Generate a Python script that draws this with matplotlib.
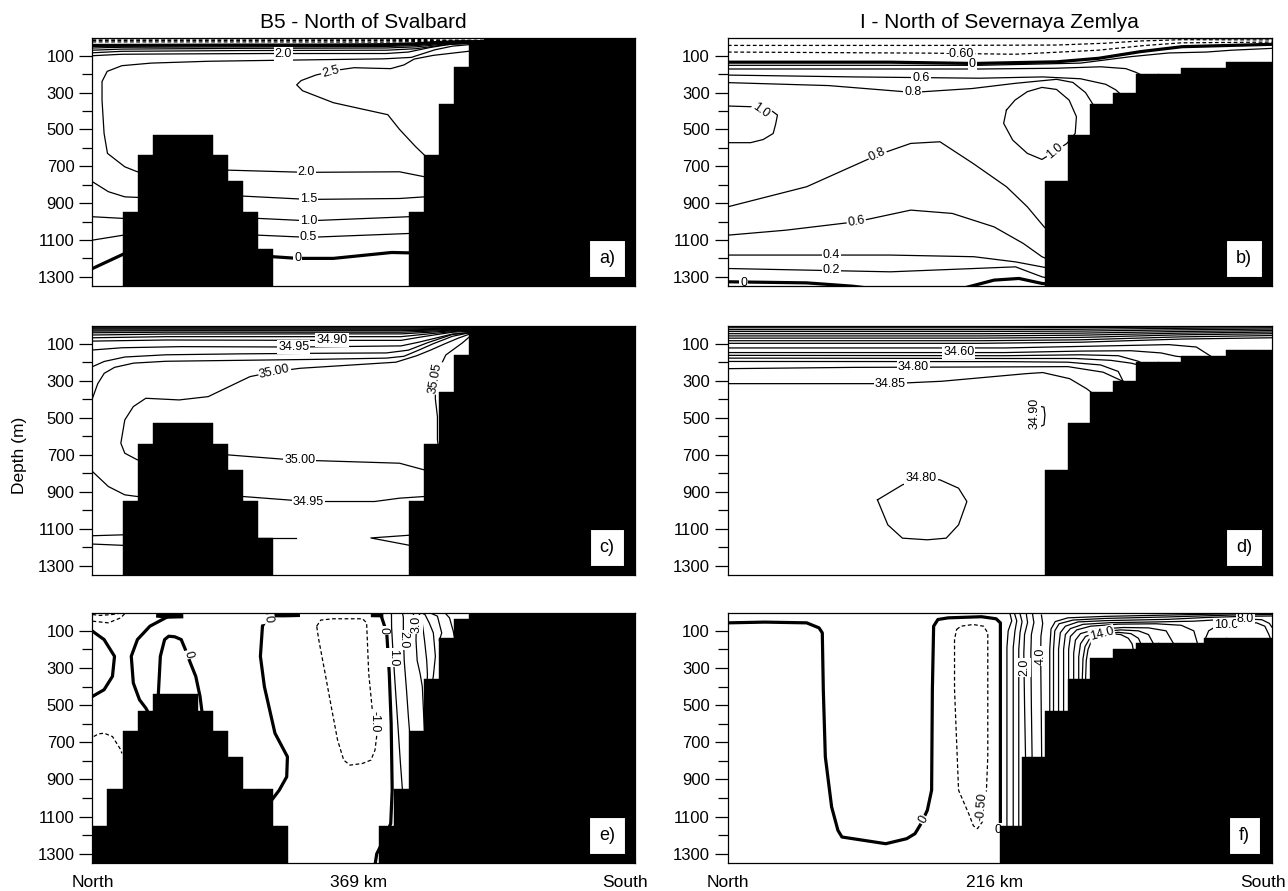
import matplotlib
matplotlib.use("Agg")
import matplotlib.pyplot as plt
import numpy as np

plt.rcParams["font.family"] = ["Liberation Sans", "DejaVu Sans"]

# section lengths (km)
B5_KM = 369.0
I_KM = 216.0

# model bottom depth for every grid column (m); 1400 = deeper than the plot
BOTTOM_B5 = [1400, 1400, 950, 640, 530, 530, 530, 530, 640, 780, 950, 1150,
             1400, 1400, 1400, 1400, 1400, 1400, 1400, 1400, 1400,
             950, 640, 360, 160, 30, 0, 0, 0, 0, 0, 0, 0, 0, 0, 0]
BOTTOM_B5_V = [1150, 950, 640, 530, 440, 440, 440, 530, 640, 780, 950, 950, 1150,
               1400, 1400, 1400, 1400, 1400, 1400,
               1150, 950, 640, 360, 140, 35, 0, 0, 0, 0, 0, 0, 0, 0, 0, 0, 0]
BOTTOM_I = [1400] * 14 + [780, 530, 360, 300, 200, 200, 165, 165, 135, 135]
BOTTOM_I_V = [1400] * 12 + [1150, 780, 530, 360, 245, 200, 165, 165, 165, 140, 140, 140]

# isolines: (kind, km, depth)
A_LINES = [
    ("dash", [0, 100, 200, 222, 240, 270], [9, 9, 10, 12, 15, 16]),
    ("dash", [0, 100, 200, 222, 240, 270], [17, 17, 18, 18, 18, 18]),
    ("dash", [0, 100, 200, 222, 240, 270], [25, 25, 26, 23, 21, 20]),
    ("thick", [0, 50, 100, 150, 200, 220, 235, 250, 270], [44, 43, 42, 42, 40, 35, 28, 24, 23]),
    ("thin", [0, 20, 100, 200, 220, 240, 270], [58, 54, 52, 50, 45, 32, 25]),
    ("thin", [0, 20, 100, 200, 220, 240, 270], [70, 64, 60, 58, 52, 36, 27]),
    ("thin", [0, 20, 100, 200, 220, 240, 270], [84, 76, 72, 70, 62, 40, 29]),
    ("thin", [0, 20, 60, 120, 200, 215, 230, 245, 256, 270], [100, 92, 90, 88, 88, 80, 55, 36, 31, 30]),
    ("thin", [270, 256, 245, 233, 217, 198, 150, 79, 40, 20, 10, 6.5, 6.5, 7.9, 10.2, 22, 30.6,
              60, 92, 145, 209, 226, 240],
             [38, 40, 48, 68, 109, 117, 122, 130, 140, 154, 185, 240, 341, 522, 630, 703, 730,
              730, 721, 733, 730, 757, 770]),
    ("thin", [257, 246, 232, 219, 212, 203, 192, 178, 165, 152, 142, 139, 143, 164, 181, 201, 209, 220, 226, 232],
             [75, 85, 98, 118, 150, 170, 168, 165, 180, 205, 235, 258, 290, 355, 385, 420, 500, 594, 640, 680]),
    ("thin", [0, 10.8, 22, 30.6, 60, 102.4, 147, 209, 226, 240], [784, 838, 866, 869, 865, 862, 880, 875, 866, 866]),
    ("thin", [0, 21, 60, 112.9, 147, 215, 230], [974, 983, 983, 983, 996, 974, 970]),
    ("thin", [0, 21, 60, 112.9, 147, 215, 230], [1101, 1074, 1074, 1074, 1086, 1065, 1060]),
    ("thick", [0, 21, 60, 122.8, 139.8, 164, 203.6, 215, 230], [1255, 1177, 1185, 1191, 1200, 1200, 1168, 1170, 1170]),
]
A_LABELS = [("2.0", 130, 88, 0), ("2.5", 162, 185, 15), ("2.0", 145.5, 733, 0),
            ("1.5", 147, 880, 0), ("1.0", 147, 996, 0), ("0.5", 147, 1086, 0), ("0", 139.8, 1200, 0)]

B_LINES = [
    ("dash", [150, 170, 190, 216], [6, 6, 7, 7]),
    ("dash", [0, 80.9, 130.5, 150, 163.6, 180, 216], [44, 44, 42, 32, 20, 13, 14]),
    ("dash", [0, 80.9, 114, 147, 165, 180, 216], [80, 86, 92, 70, 45, 30, 26]),
    ("thick", [0, 64.5, 97.7, 130.6, 147.2, 163.7, 180.3, 216], [135, 135, 142, 133, 114, 78, 51, 38]),
    ("thin", [0, 100, 140, 160, 175, 190, 200, 216], [152, 152, 140, 105, 85, 80, 70, 60]),
    ("thin", [0, 100, 130, 148, 158, 162, 165], [172, 172, 168, 160, 170, 190, 210]),
    ("thin", [0, 50, 100, 125, 140, 150, 154, 156], [205, 215, 222, 215, 225, 255, 285, 310]),
    ("thin", [0, 40, 73.4, 97, 114, 130.5, 137, 142, 145], [246, 262, 299, 278, 250, 228, 245, 300, 365]),
    ("thin", [0, 9.8, 17, 19.7, 19, 18, 14, 9, 0], [373, 377, 395, 422, 470, 522, 555, 572, 572]),
    ("thin", [110.6, 114, 118.9, 124.7, 130.5, 135.5, 138.4, 137.9, 134.6, 129.7, 124.7, 118.9, 113.1, 109.5, 110.6],
             [395, 341, 295, 272, 283, 341, 431, 522, 576, 621, 663, 630, 558, 467, 395]),
    ("thin", [0, 31.3, 59.4, 72.6, 84.2, 97.4, 110.6, 118.9, 125.5, 128], [920, 811, 639, 576, 567, 685, 811, 920, 1028, 1060]),
    ("thin", [0, 23, 51.1, 72.6, 89.1, 105.7, 117.3, 124.7, 128], [1074, 1047, 1001, 938, 956, 1029, 1119, 1191, 1210]),
    ("thin", [0, 64.5, 97.7, 114.2, 124.7, 128], [1182, 1182, 1191, 1219, 1246, 1255]),
    ("thin", [0, 64.5, 97.7, 114.2, 124.7, 128], [1255, 1273, 1255, 1246, 1300, 1310]),
    ("thick", [0, 31.3, 49.5, 55], [1327, 1333, 1351, 1360]),
    ("thick", [94, 105.7, 115.6, 124.7, 128], [1360, 1318, 1309, 1336, 1340]),
]
B_LABELS = [("-0.60", 92, 89, 0), ("0", 97, 143, 0), ("0.6", 76.7, 219, 0), ("0.8", 73.4, 299, 0),
            ("1.0", 13, 398, -35), ("1.0", 130, 620, 40), ("0.8", 59.4, 639, 25),
            ("0.6", 51, 1001, 10), ("0.4", 41.2, 1182, 0), ("0.2", 41.2, 1264, 0), ("0", 6.4, 1333, 0)]

C_LINES = [
    ("thin", [0, 220, 245, 270], [6, 6, 6, 6]),
    ("thin", [0, 220, 245, 270], [10, 10, 9, 8]),
    ("thin", [0, 220, 245, 270], [15, 15, 13, 11]),
    ("thin", [0, 220, 245, 270], [20, 20, 17, 14]),
    ("thin", [0, 220, 245, 270], [26, 25, 20, 17]),
    ("thin", [0, 50, 150, 210, 230, 250, 270], [32, 30, 30, 30, 27, 22, 19]),
    ("thin", [0, 50, 150, 210, 230, 250, 270], [41, 38, 38, 38, 32, 25, 21]),
    ("thin", [0, 50, 150, 210, 230, 250, 270], [53, 48, 47, 47, 38, 28, 23]),
    ("thin", [0, 50, 150, 210, 230, 250, 270], [68, 62, 62, 62, 46, 31, 25]),
    ("thin", [0, 50, 150, 210, 225, 245, 270], [86, 80, 82, 82, 62, 38, 27]),
    ("thin", [0, 20, 60, 138.6, 210, 222, 245, 270], [134, 122, 116, 118, 112, 92, 48, 30]),
    ("thin", [0, 8, 22, 50, 100, 150, 200, 215, 228, 245, 270], [224, 196, 172, 160, 155, 152, 150, 135, 95, 50, 30]),
    ("thin", [0, 3.6, 8, 15, 28, 50, 100, 150, 200, 212, 222, 232, 245, 256, 270],
             [395, 316, 260, 228, 205, 195, 190, 185, 178, 168, 135, 100, 60, 42, 33]),
    ("thin", [270, 256, 249, 240, 230, 220.7, 206.5, 141.2, 124, 107.2, 78.8, 59, 36.3, 27.8, 22, 19.3, 22, 30.6,
              60, 92.2, 135.6, 209, 225.8, 235],
             [40, 50, 70, 100, 135, 165, 200, 233, 251, 278, 386, 404, 395, 440, 512, 638, 692, 728,
              720, 701, 728, 746, 782, 790]),
    ("thin", [257, 251.9, 240.5, 233.4, 233.4, 234.8, 234.8, 235.5], [60, 95, 161, 278, 400, 494, 620, 660]),
    ("thin", [0, 10.8, 22, 30.6, 60, 102.4, 147, 192, 209, 225.8, 235], [791, 872, 917, 926, 930, 926, 953, 953, 935, 926, 926]),
    ("thin", [0, 21, 40], [1138, 1133, 1133]),
    ("thin", [0, 21, 40], [1183, 1190, 1190]),
    ("thin", [112, 122.8, 138.4], [1150, 1150, 1150]),
    ("thin", [216, 189.5, 216], [1135, 1150, 1190]),
]
C_LABELS = [("34.90", 163, 81, 0), ("34.95", 137, 118, 0), ("35.00", 124, 251, 12),
            ("35.05", 233.5, 285, 80), ("35.00", 141, 731, 0), ("34.95", 147, 953, 0)]

D_LINES = [
    ("thin", [0, 100, 140, 180, 216], [14, 14, 13, 10, 8]),
    ("thin", [0, 100, 140, 180, 216], [24, 24, 22, 17, 14]),
    ("thin", [0, 100, 140, 180, 216], [34, 34, 32, 25, 21]),
    ("thin", [0, 100, 140, 180, 216], [46, 46, 43, 34, 29]),
    ("thin", [0, 100, 140, 180, 216], [58, 58, 54, 43, 37]),
    ("thin", [0, 100, 140, 180, 216], [70, 70, 66, 52, 46]),
    ("thin", [0, 100, 140, 180, 216], [84, 84, 79, 63, 56]),
    ("thin", [0, 100, 140, 180, 216], [98, 98, 92, 75, 68]),
    ("thin", [0, 110, 150, 175, 186, 192], [123, 123, 112, 105, 118, 170]),
    ("thin", [0, 110, 140, 160, 172, 178, 181], [148, 148, 140, 138, 150, 168, 172]),
    ("thin", [0, 110, 140, 155, 163, 165], [163, 165, 160, 165, 195, 210]),
    ("thin", [0, 110, 138, 152, 160, 163], [178, 180, 180, 190, 205, 215]),
    ("thin", [0, 110, 135, 148, 155, 157], [196, 197, 200, 215, 250, 305]),
    ("thin", [0, 50, 100, 135, 149, 156, 158], [235, 228, 226, 224, 254, 298, 310]),
    ("thin", [0, 64.4, 85, 118.4, 125, 135.7, 142.4, 145.5], [316, 316, 303, 262, 256, 289, 343, 375]),
    ("thin", [123, 125.5, 125.9, 125.5, 123.9], [436, 443, 485, 539, 548]),
    ("thin", [59.4, 69.3, 76.7, 84.2, 91.6, 94.9, 91.6, 86.7, 79.2, 69.3, 63.5, 59.4],
             [944, 863, 827, 836, 881, 953, 1079, 1151, 1160, 1151, 1079, 944]),
]
D_LABELS = [("34.60", 91.7, 147, 0), ("34.80", 73.7, 227, 0), ("34.85", 64.4, 316, 0),
            ("34.90", 121.7, 478, 90), ("34.80", 76.7, 827, 0)]

E_LINES = [
    ("dash", [0, 5, 13.6, 19.3], [12, 17, 12, 4]),
    ("dash", [0, 10.8, 19.3, 22.1], [48, 57, 30, 6]),
    ("dash", [0.85, 4, 7.9, 13.6, 19.3, 20], [669, 655, 651, 669, 741, 760]),
    ("heavy", [43.4, 52, 61.8], [10, 16, 14]),
    ("heavy", [118.6, 130, 141.2], [8, 9, 7]),
    ("heavy", [189.5, 198], [8, 9]),
    ("thick", [0, 7.9, 15, 13.6, 7.9, 0], [102, 147, 237, 345, 417, 453]),
    ("thick", [51.9, 39.1, 30.6, 26.4, 27.8, 32, 36.3, 38], [21, 75, 147, 237, 381, 471, 516, 540]),
    ("thick", [44.8, 46.2, 49.1, 51.9, 56, 60.4, 63.2, 66.5, 70.3, 73.2, 74.6],
              [445, 237, 147, 129, 132, 147, 200, 270, 345, 453, 540]),
    ("thick", [120, 118.6, 115.7, 114.3, 117, 124.2, 132.7, 132.2, 127.1, 122.8, 121],
              [5, 30, 75, 237, 400, 651, 778, 886, 958, 1003, 1020]),
    ("thick", [195.5, 196.6, 200.3, 202, 203.3, 204, 203, 198, 193.5, 192.5],
              [5, 21, 111, 327, 597, 958, 1138, 1230, 1300, 1350]),
    ("dash", [152.6, 155.4, 163.9, 183.8, 186.6, 188, 190.9, 192.3, 193.7, 192.3, 189.5, 183.8, 175.3,
              171, 166.8, 162.5, 158.3, 154, 152.6],
             [75, 42, 35, 35, 57, 327, 561, 597, 651, 742, 796, 814, 823, 796, 687, 507, 327, 147, 75]),
    ("thin", [203.5, 203.6, 204.5, 206.3, 208, 209.5, 211], [4, 80, 208, 424, 622, 800, 960]),
    ("thin", [211, 211.6, 211.6, 212.2, 213.8, 215, 216], [4, 28, 118, 262, 424, 560, 660]),
    ("thin", [218, 219.5, 220.5, 220.2, 221, 223, 224.5, 226], [4, 30, 64, 150, 260, 330, 400, 650]),
    ("thin", [222, 224, 226, 227.5, 228, 227.8], [4, 30, 150, 260, 335, 370]),
    ("thin", [224, 226.3, 229.2, 232, 233.4, 232, 231.5], [4, 12, 57, 111, 237, 345, 370]),
    ("thin", [230, 234.8, 237.7, 237, 236], [4, 21, 111, 130, 150]),
    ("thin", [240, 243, 245.5, 246.5], [4, 30, 100, 140]),
]
E_LABELS = [("0", 65.2, 228, -75), ("0", 119.5, 35, -80), ("0", 198, 100, -90), ("-1.0", 192.3, 590, -90),
            ("1.0", 204.8, 244, -90), ("2.0", 211.4, 150, -90), ("3.0", 220.5, 64, 90)]

F_LINES = [
    ("thick", [0, 14.7, 31.3, 36.2, 37.5, 37.9, 38.7, 41.2, 43.7, 45.3, 62.7, 71, 74.3, 76.7, 79.2, 80.9, 81.2,
               81.7, 83.4, 87.5, 100.7, 106.5, 108.2, 108.2, 108.2],
              [57, 53, 57, 84, 111, 417, 778, 1048, 1174, 1210, 1246, 1219, 1192, 1138, 1066, 958, 417,
               75, 39, 30, 24, 35, 57, 700, 1160]),
    ("dash", [90.8, 92.5, 97.4, 101.5, 103.2, 103.2, 102.4, 101.5, 99.1, 97.5, 95.8, 91.6, 90, 90, 90.8],
             [93, 75, 66, 75, 111, 778, 1048, 1120, 1165, 1150, 1090, 958, 417, 147, 93]),
    ("thin", [112, 112.7, 111.3, 110.8, 110.8, 110.8], [6, 46, 100, 190, 700, 1160]),
    ("thin", [113.8, 114.7, 114, 113.3, 113.3], [6, 46, 100, 190, 1160]),
    ("thin", [116, 116.8, 116, 115.5, 115.5], [8, 50, 110, 200, 1160]),
    ("thin", [118.5, 119, 117.8, 117.5, 117.8, 118.2], [10, 55, 120, 220, 500, 790]),
    ("thin", [121, 121.5, 120.5, 120.3, 120.5, 120.8], [12, 55, 120, 220, 500, 790]),
    ("thin", [124.5, 125, 124.3, 124.2, 124.4, 124.6], [15, 60, 130, 235, 500, 790]),
    ("thin", [127.8, 127.8, 128.3, 130, 135, 150, 175, 200, 216], [540, 200, 90, 50, 30, 22, 15, 8, 6]),
    ("thin", [129.3, 129.3, 129.8, 131.5, 137, 150, 175, 200, 216], [540, 200, 100, 62, 42, 33, 25, 15, 12]),
    ("thin", [131.3, 131.3, 132, 134, 139, 150, 175, 190, 205, 216], [540, 200, 110, 75, 52, 45, 38, 28, 22, 20]),
    ("thin", [133.3, 133.3, 134, 136, 141, 152, 170, 185, 195, 205, 212, 215, 216],
             [540, 200, 120, 88, 65, 56, 52, 48, 40, 36, 40, 60, 80]),
    ("thin", [135.3, 135.3, 136, 138.5, 144, 155, 170, 180, 185, 186.5], [370, 200, 130, 95, 75, 64, 62, 70, 100, 170]),
    ("thin", [137.3, 137.3, 138, 140, 146, 157, 167, 174, 177], [370, 220, 150, 115, 92, 82, 84, 100, 170]),
    ("thin", [139.3, 139.3, 140, 142, 147, 156, 163, 167, 169], [370, 240, 170, 130, 106, 95, 100, 120, 170]),
    ("thin", [140.7, 141, 141.8, 143.5, 148, 155, 160, 163, 164], [370, 250, 185, 145, 118, 108, 115, 140, 170]),
    ("thin", [142, 142.3, 143, 144.5, 147.5, 152, 156, 159, 160.5, 161], [370, 260, 200, 150, 125, 115, 120, 140, 170, 205]),
    ("thin", [189.5, 190.9, 193.3, 203.3, 209.9, 213.2, 214.8, 215.5], [145, 100, 80, 60, 57, 75, 120, 145]),
]
F_LABELS = [("0", 77.6, 1118, 60), ("0", 107.3, 1172, 0), ("-0.50", 100.9, 1045, 85), ("2.0", 117.6, 298, 90),
            ("4.0", 124.3, 235, 90), ("14.0", 148.5, 117, 15), ("10.0", 198, 70, 0), ("8.0", 205.5, 36, 0)]

STYLES = {
    "thin": dict(color="black", lw=0.9),
    "thick": dict(color="black", lw=2.3),
    "heavy": dict(color="black", lw=5.0, solid_capstyle="butt"),
    "dash": dict(color="black", lw=0.9, ls=(0, (3, 2))),
}


def draw_panel(ax, length, bottom, lines, labels, letter):
    for kind, xs, zs in lines:
        ax.plot(xs, zs, zorder=1, **STYLES[kind])
    for text, x, z, rot in labels:
        ax.text(x, z, text, rotation=rot, rotation_mode="anchor", ha="center", va="center",
                fontsize=9, zorder=2, clip_on=True,
                bbox=dict(boxstyle="square,pad=0.08", fc="white", ec="none"))
    ncol = len(bottom)
    w = length / ncol
    centers = (np.arange(ncol) + 0.5) * w
    bot = np.array(bottom, dtype=float)
    ax.bar(centers, 1400 - bot, bottom=bot, width=w * 1.01, color="black",
           edgecolor="black", linewidth=0.3, zorder=3)
    ax.set_xlim(0, length)
    ax.set_ylim(1350, 4)
    ax.set_xticks([])
    ax.set_yticks(np.arange(100, 1400, 200))
    ax.set_yticks(np.arange(200, 1300, 200), minor=True)
    ax.tick_params(axis="y", which="major", direction="out", length=9.5, width=0.9,
                   labelsize=12, pad=3.5)
    ax.tick_params(axis="y", which="minor", direction="out", length=7, width=0.9)
    for s in ax.spines.values():
        s.set_linewidth(0.9)
        s.set_zorder(5)
    ax.text(0.949, 0.11, letter, transform=ax.transAxes, ha="center", va="center",
            fontsize=13, zorder=6,
            bbox=dict(boxstyle="square,pad=0.55", fc="white", ec="black", lw=0.8))


fig = plt.figure(figsize=(12.88, 8.91), dpi=100)
left_x, left_w = 0.0718, 0.4209
right_x, right_w = 0.5651, 0.4224
rows = [(0.6790, 0.2783), (0.3547, 0.2795), (0.0314, 0.2806)]

panels = [
    (left_x, left_w, 0, B5_KM, BOTTOM_B5, A_LINES, A_LABELS, "a)"),
    (right_x, right_w, 0, I_KM, BOTTOM_I, B_LINES, B_LABELS, "b)"),
    (left_x, left_w, 1, B5_KM, BOTTOM_B5, C_LINES, C_LABELS, "c)"),
    (right_x, right_w, 1, I_KM, BOTTOM_I, D_LINES, D_LABELS, "d)"),
    (left_x, left_w, 2, B5_KM, BOTTOM_B5_V, E_LINES, E_LABELS, "e)"),
    (right_x, right_w, 2, I_KM, BOTTOM_I_V, F_LINES, F_LABELS, "f)"),
]
axes = []
for x0, w, r, length, bottom, lines, labels, letter in panels:
    ax = fig.add_axes([x0, rows[r][0], w, rows[r][1]])
    draw_panel(ax, length, bottom, lines, labels, letter)
    axes.append(ax)

axes[0].set_title("B5 - North of Svalbard", fontsize=15, pad=7)
axes[1].set_title("I - North of Severnaya Zemlya", fontsize=15, pad=7)

for ax, km in [(axes[4], "369 km"), (axes[5], "216 km")]:
    ax.text(0.0, -0.076, "North", transform=ax.transAxes, ha="center", va="center", fontsize=12.5)
    ax.text(0.49, -0.076, km, transform=ax.transAxes, ha="center", va="center", fontsize=12.5)
    ax.text(0.983, -0.076, "South", transform=ax.transAxes, ha="center", va="center", fontsize=12.5)

fig.text(0.0155, 0.4886, "Depth (m)", rotation=90, ha="center", va="center", fontsize=12.5)

fig.savefig("out.png", dpi=100)
